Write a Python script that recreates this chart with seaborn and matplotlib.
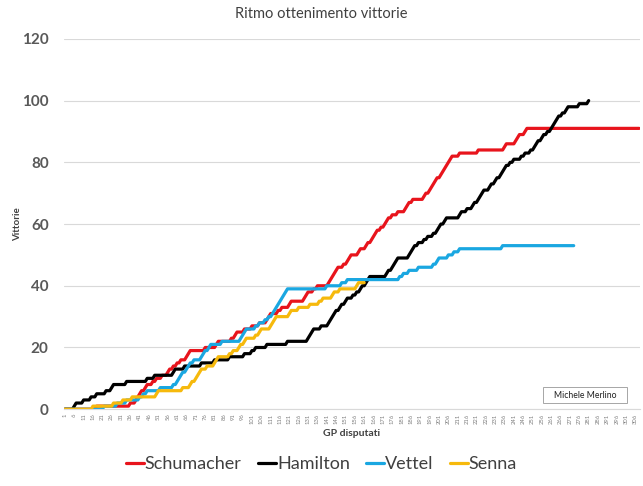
import numpy as np
import pandas as pd
import seaborn as sns
import matplotlib.pyplot as plt
from matplotlib.patches import Rectangle

# GP (numero di gara in carriera) in cui ogni pilota ha vinto
schumacher_wins = [18, 36, 39, 40, 41, 42, 44, 45, 48, 50,
                   53, 56, 57, 59, 61, 63, 66, 67, 68,
                   76, 82, 83,
                   90, 92, 93, 97, 101,
                   105, 109, 110, 111, 115, 117,
                   121, 122,
                   129, 130, 131, 134, 136, 142, 143, 144, 145,
                   146, 147, 150, 152, 153, 154, 158, 159, 162,
                   163, 165, 166, 167, 168, 170, 172, 173, 174, 176, 179,
                   183, 184, 185, 187, 193, 194,
                   196, 197, 198, 199, 200, 202, 203, 204, 205, 206, 207, 208, 212,
                   222,
                   236, 237, 242, 243, 244, 247, 248]
hamilton_wins = [6, 7, 11, 15,
                 18, 23, 26, 27, 34,
                 45, 49,
                 59, 60, 65,
                 74, 81, 89,
                 97, 101, 103, 109,
                 120,
                 131, 132, 133, 134, 138, 142, 143, 144, 145, 146, 148,
                 149, 151, 152, 155, 157, 159, 160, 162, 163, 164,
                 173, 174, 176, 177, 178, 179, 185, 186, 187, 188,
                 190, 193, 195, 198, 200, 201, 202, 204, 205,
                 212, 213, 216, 219, 220, 222, 223, 224, 225, 228, 229,
                 231, 232, 234, 235, 236, 237, 239, 241, 245, 247, 250,
                 252, 253, 254, 256, 257, 259, 261, 262, 263, 264, 265,
                 267, 269, 270, 276, 281]
vettel_wins = [22,
               29, 34, 41, 43,
               45, 52, 59, 61, 62,
               63, 64, 66, 67, 68, 70, 74, 75, 76, 78, 79,
               85, 95, 96, 97, 98,
               103, 105, 108, 110, 112, 113, 114, 115, 116, 117, 118, 119, 120,
               141, 149, 152,
               180, 182, 185, 190, 198,
               200, 201, 206, 209, 212,
               235]
senna_wins = [16, 27,
              32, 37,
              50, 51,
              64, 68, 69, 71, 72, 73, 74, 77,
              81, 82, 83, 89, 91, 94,
              95, 97, 98, 103, 105, 106,
              111, 112, 113, 114, 121, 122, 126,
              132, 137, 139,
              144, 145, 148, 157, 158]

# GP disputati da ciascun pilota
drivers = ['Schumacher', 'Hamilton', 'Vettel', 'Senna']
gp_count = [308, 281, 273, 161]
wins = [schumacher_wins, hamilton_wins, vettel_wins, senna_wins]
colors = ['#E8141C', '#000000', '#1AA7E1', '#F6B90C']

tick_labels = [str(i) for i in range(1, 307, 5)]

rows = []
for name, n, w in zip(drivers, gp_count, wins):
    gp = np.arange(1, n + 1)
    cum = np.searchsorted(np.array(w), gp, side='right')
    rows.append(pd.DataFrame({'GP': gp, 'Vittorie': cum, 'Pilota': name}))
df = pd.concat(rows, ignore_index=True)

sns.set_theme(style='white')
plt.rcParams['font.family'] = ['Lato', 'DejaVu Sans']

fig = plt.figure(figsize=(6.43, 4.86), dpi=100)
ax = fig.add_axes([0.0995, 0.158, 0.896, 0.762])

sns.lineplot(data=df, x='GP', y='Vittorie', hue='Pilota', hue_order=drivers,
             palette=colors, linewidth=2.3, ax=ax, legend=False)

ax.set_xlim(0.5, 308.5)
ax.set_ylim(0, 120)
ax.set_yticks(range(0, 121, 20))
ax.set_yticklabels([str(v) for v in range(0, 121, 20)], fontsize=11,
                   fontweight='bold', color='#595959')
ax.set_xticks(range(1, 307, 5))
ax.set_xticklabels(tick_labels, rotation=90, fontsize=4.2, color='#7f7f7f')
ax.tick_params(axis='y', length=0, pad=11)
ax.tick_params(axis='x', length=0, pad=3)
ax.grid(axis='y', color='#d9d9d9', linewidth=0.8)
ax.set_axisbelow(True)
for s in ['top', 'right', 'left']:
    ax.spines[s].set_visible(False)
ax.spines['bottom'].set_color('#d9d9d9')
ax.spines['bottom'].set_linewidth(0.8)

ax.set_xlabel('GP disputati', fontsize=7.5, fontweight='bold', color='#404040', labelpad=4)
ax.set_ylabel('Vittorie', fontsize=7, fontweight='bold', color='#404040')
ax.yaxis.set_label_coords(-0.073, 0.5)

fig.text(0.5, 0.972, 'Ritmo ottenimento vittorie', ha='center', va='center',
         fontsize=10.5, color='#404040')

fig.patches.append(Rectangle((0.8445, 0.1708), 0.1306, 0.0329, transform=fig.transFigure,
                             facecolor='white', edgecolor='#a6a6a6', linewidth=0.7,
                             zorder=5))
fig.text(0.9098, 0.1872, 'Michele Merlino', ha='center', va='center', fontsize=6.2,
         color='#202020', zorder=6)

handles = [plt.Line2D([], [], color=c, linewidth=2.3) for c in colors]
fig.legend(handles, drivers, loc='center', bbox_to_anchor=(0.5, 0.045), ncol=4,
           frameon=False, fontsize=13, handlelength=1.0, handletextpad=0.05,
           columnspacing=0.9, labelcolor='#404040')

fig.savefig('out.png', dpi=100)
